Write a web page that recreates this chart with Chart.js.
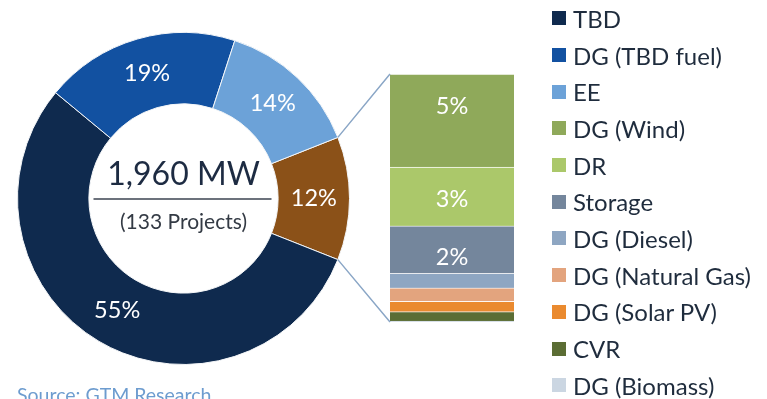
<!DOCTYPE html>
<html lang="en">
<head>
  <meta charset="UTF-8">
  <title>Pipeline by Technology</title>
  <script src="https://cdn.jsdelivr.net/npm/chart.js"></script>
  <style>
    body {
      margin: 0;
      background: #fff;
      font-family: Lato, "Open Sans", sans-serif;
    }
    .wrap {
      position: relative;
      width: 767px;
      height: 399px;
      overflow: hidden;
    }
    #donut {
      position: absolute;
      left: 0;
      top: 0;
    }
    #stack {
      position: absolute;
      left: 0;
      top: 0;
    }
    .legend {
      position: absolute;
      left: 552px;
      top: 0;
    }
    .legend div {
      height: 36.7px;
      display: flex;
      align-items: center;
      font-size: 24px;
      color: #1f2c3d;
      white-space: nowrap;
    }
    .legend span {
      display: inline-block;
      width: 14px;
      height: 14px;
      margin-right: 7px;
    }
    .source {
      position: absolute;
      left: 17px;
      top: 383px;
      font-size: 19.5px;
      color: #6d9ccf;
    }
  </style>
</head>
<body>
  <div class="wrap">
    <canvas id="donut" width="367" height="399"></canvas>
    <canvas id="stack" width="767" height="399"></canvas>
    <div class="legend" id="legend"></div>
    <div class="source">Source: GTM Research</div>
  </div>

  <script>
    // donut: share of total MW (Other = the broken-out slice)
    const donutLabels = ["Other", "TBD", "DG (TBD fuel)", "EE"];
    const donutValues = [12, 55, 19, 14];
    const donutColors = ["#8b5118", "#0f2a4e", "#1251a1", "#6ca2d8"];

    // breakdown of the "Other" slice, bottom to top
    const stackLabels = ["DG (Biomass)", "CVR", "DG (Solar PV)", "DG (Natural Gas)", "DG (Diesel)", "Storage", "DR", "DG (Wind)"];
    const stackValues = [0.05, 0.45, 0.5, 0.65, 0.7, 2.3, 2.85, 4.5];
    const stackColors = ["#cbd6e2", "#5b6d34", "#ea8a2f", "#e3a47e", "#8ea6c2", "#74869c", "#abc86a", "#8fa95a"];

    const legendOrder = ["TBD", "DG (TBD fuel)", "EE", "DG (Wind)", "DR", "Storage", "DG (Diesel)", "DG (Natural Gas)", "DG (Solar PV)", "CVR", "DG (Biomass)"];

    const totalText = "1,960 MW";
    const projectsText = "(133 Projects)";

    const FONT = "Lato, 'Open Sans', sans-serif";

    // legend built from the same arrays
    const legendEl = document.getElementById("legend");
    legendOrder.forEach((name) => {
      let color;
      const di = donutLabels.indexOf(name);
      if (di >= 0) color = donutColors[di];
      else color = stackColors[stackLabels.indexOf(name)];
      const row = document.createElement("div");
      row.innerHTML = '<span style="background:' + color + '"></span>' + name;
      legendEl.appendChild(row);
    });

    const donutTotal = donutValues.reduce((a, b) => a + b, 0);
    // put the middle of the "Other" slice at 3 o'clock
    const rotation = 90 - (donutValues[0] / donutTotal) * 180;

    const donutText = {
      id: "donutText",
      afterDraw(chart) {
        const ctx = chart.ctx;
        const arcs = chart.getDatasetMeta(0).data;
        ctx.save();
        ctx.textAlign = "center";
        ctx.textBaseline = "middle";
        ctx.fillStyle = "#fff";
        ctx.font = "23.5px " + FONT;
        arcs.forEach((arc, i) => {
          const p = arc.tooltipPosition();
          ctx.fillText(donutValues[i] + "%", p.x, p.y);
        });

        const cx = arcs[0].x, cy = arcs[0].y;
        ctx.fillStyle = "#1d2b42";
        ctx.font = "32px " + FONT;
        ctx.fillText(totalText, cx, cy - 24);
        ctx.strokeStyle = "#3b4350";
        ctx.lineWidth = 1.5;
        ctx.beginPath();
        ctx.moveTo(cx - 90, cy + 0.5);
        ctx.lineTo(cx + 88, cy + 0.5);
        ctx.stroke();
        ctx.fillStyle = "#333a44";
        ctx.font = "21px " + FONT;
        ctx.fillText(projectsText, cx, cy + 24);
        ctx.restore();
      }
    };

    const donutChart = new Chart(document.getElementById("donut"), {
      type: "doughnut",
      data: {
        labels: donutLabels,
        datasets: [{
          data: donutValues,
          backgroundColor: donutColors,
          borderColor: "#f4f6f8",
          borderWidth: 1,
          hoverOffset: 0
        }]
      },
      options: {
        responsive: false,
        animation: false,
        rotation: rotation,
        cutout: "57%",
        layout: { padding: { left: 17, right: 17, top: 32, bottom: 34 } },
        plugins: { legend: { display: false }, tooltip: { enabled: false } }
      },
      plugins: [donutText]
    });

    const stackTotal = stackValues.reduce((a, b) => a + b, 0);

    const stackExtras = {
      id: "stackExtras",
      afterDraw(chart) {
        const ctx = chart.ctx;
        const n = chart.data.datasets.length;
        const bottomBar = chart.getDatasetMeta(0).data[0];
        const topBar = chart.getDatasetMeta(n - 1).data[0];
        const left = bottomBar.x - bottomBar.width / 2;

        // connector lines from the "Other" slice to the bar
        const arc = donutChart.getDatasetMeta(0).data[0];
        const r = arc.outerRadius;
        ctx.save();
        ctx.strokeStyle = "#8aa6c6";
        ctx.lineWidth = 1.5;
        ctx.beginPath();
        ctx.moveTo(arc.x + r * Math.cos(arc.startAngle), arc.y + r * Math.sin(arc.startAngle));
        ctx.lineTo(left, topBar.y);
        ctx.moveTo(arc.x + r * Math.cos(arc.endAngle), arc.y + r * Math.sin(arc.endAngle));
        ctx.lineTo(left, bottomBar.base);
        ctx.stroke();

        // percent labels near the top of each big segment
        ctx.fillStyle = "#fff";
        ctx.font = "23.5px " + FONT;
        ctx.textAlign = "center";
        ctx.textBaseline = "middle";
        chart.data.datasets.forEach((ds, i) => {
          const v = ds.data[0];
          if (v < 1) return;
          const bar = chart.getDatasetMeta(i).data[0];
          ctx.fillText(Math.round(v) + "%", bar.x, bar.y + 32);
        });
        ctx.restore();
      }
    };

    new Chart(document.getElementById("stack"), {
      type: "bar",
      data: {
        labels: ["Other"],
        datasets: stackLabels.map((name, i) => ({
          label: name,
          data: [stackValues[i]],
          backgroundColor: stackColors[i],
          borderColor: "rgba(255,255,255,0.55)",
          borderWidth: { top: 1, bottom: 0, left: 0, right: 0 },
          borderSkipped: false
        }))
      },
      options: {
        responsive: false,
        animation: false,
        layout: { padding: { left: 390, right: 253, top: 74, bottom: 77 } },
        datasets: { bar: { barPercentage: 1, categoryPercentage: 1 } },
        scales: {
          x: { stacked: true, display: false },
          y: { stacked: true, display: false, min: 0, max: stackTotal }
        },
        plugins: { legend: { display: false }, tooltip: { enabled: false } }
      },
      plugins: [stackExtras]
    });
  </script>
</body>
</html>
